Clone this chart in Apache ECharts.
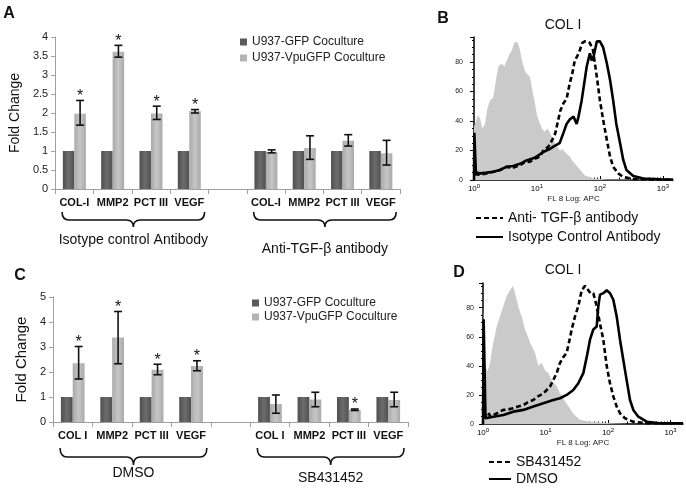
<!DOCTYPE html>
<html><head><meta charset="utf-8">
<script src="https://cdn.jsdelivr.net/npm/echarts@6/dist/echarts.min.js"></script>
<style>html,body{margin:0;padding:0;background:#fff}#c{width:686px;height:489px}</style>
</head><body><div id="c"></div>
<script>
// ---------- Panel A ----------
const catsA = ['COL-I','MMP2','PCT III','VEGF','','COL-I','MMP2','PCT III','VEGF'];
const gfpA = [1,1,1,1,null,1,1,1,1];
const vpuA = [1.98,3.61,1.99,2.05,null,0.98,1.08,1.27,0.94];
const errLowA = [1.68,3.47,1.83,2.00,null,0.95,0.78,1.13,0.63];
const errHighA = [2.33,3.78,2.18,2.09,null,1.03,1.40,1.43,1.28];
const starA = [1,1,1,1,0,0,0,0,0];
const groupNamesA = ['Isotype control Antibody','Anti-TGF-\u03b2 antibody'];
// ---------- Panel C ----------
const catsC = ['COL I','MMP2','PCT III','VEGF','','COL I','MMP2','PCT III','VEGF'];
const gfpC = [1,1,1,1,null,1,1,1,1];
const vpuC = [2.35,3.38,2.09,2.24,null,0.72,0.90,0.48,0.88];
const errLowC = [1.72,2.33,1.89,2.05,null,0.35,0.61,0.46,0.61];
const errHighC = [3.02,4.42,2.31,2.45,null,1.08,1.19,0.52,1.19];
const starC = [1,1,1,1,0,0,0,1,0];
const groupNamesC = ['DMSO','SB431452'];
const groupStart = [0,5];
const groupEnd = [3,8];
const legendBars = ['U937-GFP Coculture','U937-VpuGFP Coculture'];
// ---------- Panel B histograms (x in log10 decades, y = counts) ----------
const grayB = [[0,36],[0.016,36],[0.06,44],[0.095,42],[0.13,35],[0.175,38],[0.21,48],[0.254,54],[0.307,56],[0.35,68],[0.386,77],[0.44,79],[0.48,77],[0.52,81],[0.56,85],[0.6,88],[0.65,94],[0.7,93],[0.73,88],[0.757,82],[0.8,75],[0.836,72],[0.889,70],[0.93,60],[0.968,52],[1.0,44],[1.048,38],[1.09,34],[1.127,33],[1.17,35],[1.206,32],[1.25,28],[1.286,25],[1.33,22],[1.365,20],[1.40,21],[1.444,19],[1.49,17],[1.524,16],[1.56,13],[1.603,11],[1.683,7],[1.762,3],[1.83,2],[1.894,1],[2.1,0.3],[3.16,0]];
const antiTgfB = [[0.01,4],[0.04,4.5],[0.1,3.5],[0.2,4.5],[0.31,5.6],[0.4,6.5],[0.52,9],[0.6,8],[0.73,10],[0.8,12],[0.89,12.4],[0.95,14],[1.05,16],[1.1,20],[1.18,22.6],[1.24,27],[1.29,31.6],[1.37,47],[1.42,52],[1.47,55],[1.52,65.5],[1.56,72],[1.6,81],[1.64,84],[1.68,88],[1.72,93],[1.76,94],[1.8,94],[1.84,93],[1.89,88],[1.95,70],[2.0,54],[2.05,41],[2.11,27],[2.16,16],[2.21,9],[2.29,4.5],[2.37,2],[2.53,0.7],[2.8,0.3],[3.16,0.2]];
const isotypeB = [[0,0],[0.005,32],[0.02,32],[0.03,5],[0.1,4.5],[0.2,5],[0.31,5.6],[0.42,7],[0.52,9],[0.62,9.5],[0.73,11],[0.82,13],[0.94,14.7],[1.0,16],[1.1,19],[1.2,21],[1.26,22.6],[1.36,25],[1.42,32],[1.47,38],[1.52,41],[1.58,43],[1.63,38],[1.66,43],[1.71,54],[1.79,77],[1.84,86],[1.87,81],[1.9,84],[1.95,94],[2.0,94],[2.05,90],[2.11,79],[2.16,68],[2.21,54],[2.26,38],[2.32,25],[2.37,13.6],[2.42,6.8],[2.53,2.7],[2.69,1],[2.95,0.5],[3.16,0.3]];
// ---------- Panel D histograms ----------
const grayD = [[0,80],[0.02,80],[0.04,40],[0.07,36],[0.112,42],[0.14,50],[0.165,56],[0.219,67],[0.272,74],[0.325,81],[0.379,88],[0.432,92],[0.475,95],[0.5,92],[0.53,87],[0.565,81],[0.6,76],[0.619,74],[0.672,65],[0.72,60],[0.752,56],[0.8,52],[0.832,49],[0.885,40],[0.939,42],[0.992,37],[1.045,35],[1.099,30],[1.179,26],[1.232,21],[1.339,14],[1.445,7],[1.552,3],[1.712,1.6],[1.872,1],[2.032,0.5],[2.3,0],[3.2,0]];
const sbD = [[0.01,4],[0.032,5],[0.08,8],[0.12,5],[0.165,6.2],[0.25,8],[0.325,9.7],[0.4,10],[0.485,10.8],[0.56,12],[0.645,13],[0.72,15],[0.805,16.5],[0.88,19],[0.965,21],[1.072,25.7],[1.179,35],[1.232,42],[1.285,46],[1.339,49],[1.38,57],[1.419,65],[1.472,74],[1.525,81],[1.579,92],[1.632,95],[1.685,92],[1.72,90],[1.765,90],[1.819,81],[1.872,69],[1.925,58],[1.979,40],[2.032,28],[2.085,19],[2.139,12],[2.192,7.4],[2.272,3.9],[2.405,1.6],[2.619,0.5],[3.2,0.5]];
const dmsoD = [[0,0],[0.01,72],[0.03,72],[0.04,4],[0.059,4],[0.165,5],[0.325,6.2],[0.485,8.5],[0.645,9.7],[0.805,12],[0.965,14.3],[1.125,16.5],[1.232,17.7],[1.339,20],[1.445,23.4],[1.525,28],[1.605,35],[1.659,46],[1.712,58],[1.765,65],[1.819,67],[1.845,81],[1.872,89],[1.925,90],[1.979,92],[2.032,90],[2.085,85.5],[2.139,74],[2.192,58],[2.245,44],[2.299,30],[2.352,16.5],[2.405,9.7],[2.485,5],[2.619,1.6],[2.832,0.5],[3.2,0.5]];
const decadeLabels = [0,1,2,3];

const FONT = 'Arial, "Liberation Sans", sans-serif';
const BAR_FRAC = 0.30; // fraction of band per bar
function grad(edge, mid){
  return {type:'linear',x:0,y:0,x2:1,y2:0,colorStops:[{offset:0,color:edge},{offset:0.5,color:mid},{offset:1,color:edge}]};
}
const darkFill = grad('#4f4f4f','#6c6c6c');
const lightFill = grad('#a9a9a9','#c6c6c6');

function errSeries(axisIdx, low, high, star){
  const data = [];
  low.forEach((l,i)=>{ if(l!=null) data.push([i,l,high[i],star[i]]); });
  return {type:'custom', xAxisIndex:axisIdx, yAxisIndex:axisIdx, z:5, silent:true, clip:false,
    data: data,
    renderItem: function(params, api){
      const i = api.value(0);
      const bw = api.size([1,0])[0];
      const x = api.coord([i,0])[0] + BAR_FRAC*bw/2;
      const lo = api.coord([i, api.value(1)])[1];
      const hi = api.coord([i, api.value(2)])[1];
      const c = 4;
      const st = {stroke:'#111', lineWidth:1.6};
      const ch = [
        {type:'line', shape:{x1:x,y1:lo,x2:x,y2:hi}, style:st},
        {type:'line', shape:{x1:x-c,y1:lo,x2:x+c,y2:lo}, style:st},
        {type:'line', shape:{x1:x-c,y1:hi,x2:x+c,y2:hi}, style:st}
      ];
      if(api.value(3)) ch.push({type:'text', style:{text:'*', x:x, y:hi-4, align:'center', verticalAlign:'middle', font:'16px '+FONT, fill:'#111'}});
      return {type:'group', children:ch};
    }};
}
function braceSeries(axisIdx, names, cfg){
  return {type:'custom', xAxisIndex:axisIdx, yAxisIndex:axisIdx, silent:true, clip:false,
    data: groupStart.map((s,k)=>[s, groupEnd[k]]),
    renderItem: function(params, api){
      const k = params.dataIndex;
      const bw = api.size([1,0])[0];
      const p0 = api.coord([api.value(0),0]);
      const p1 = api.coord([api.value(1),0]);
      const x1 = p0[0]-0.32*bw, x2 = p1[0]+0.40*bw, xc = (x1+x2)/2;
      const y0 = p0[1]+cfg.top, ym = y0+cfg.mid, yt = y0+cfg.tip;
      const r = 7;
      const d = `M${x1},${y0} Q${x1},${ym} ${x1+r},${ym} L${xc-r},${ym} Q${xc},${ym} ${xc},${yt} Q${xc},${ym} ${xc+r},${ym} L${x2-r},${ym} Q${x2},${ym} ${x2},${y0}`;
      return {type:'group', children:[
        {type:'path', shape:{pathData:d}, style:{stroke:'#111', fill:'none', lineWidth:1.6}},
        {type:'text', style:{text:names[k], x:xc, y:p0[1]+cfg.label[k], align:'center', verticalAlign:'middle', font:'14px '+FONT, fill:'#111'}}
      ]};
    }};
}
function catAxis(gi, cats){
  return {type:'category', gridIndex:gi, data:cats,
    axisLine:{lineStyle:{color:'#a0a0a0', width:1}},
    axisTick:{show:true, length:5, alignWithLabel:false, lineStyle:{color:'#a0a0a0'}},
    axisLabel:{fontSize:11, fontWeight:'bold', color:'#111', fontFamily:FONT, margin:8, interval:0}};
}
function barY(gi, max, interval, nameGap, nameSize){
  return {type:'value', gridIndex:gi, min:0, max:max, interval:interval,
    name:'Fold Change', nameLocation:'middle', nameRotate:90, nameGap:nameGap,
    nameTextStyle:{fontSize:nameSize, color:'#111', fontFamily:FONT},
    axisLine:{show:true, lineStyle:{color:'#a0a0a0'}},
    axisTick:{show:true, length:4, lineStyle:{color:'#a0a0a0'}},
    axisLabel:{fontSize:11, color:'#222', fontFamily:FONT, margin:7},
    splitLine:{show:false}};
}
function histX(gi, max){
  return {type:'value', gridIndex:gi, min:0, max:max, interval:1, position:'bottom',
    name:'FL 8 Log: APC', nameLocation:'middle', nameGap:15,
    nameTextStyle:{fontSize:8, color:'#222', fontFamily:FONT},
    axisLine:{lineStyle:{color:'#000', width:1.5}},
    axisTick:{inside:true, length:4, lineStyle:{color:'#000'}},
    axisLabel:{showMaxLabel:false, margin:3, color:'#000', fontFamily:FONT,
      formatter: v => '{a|10}{b|' + v + '}',
      rich:{a:{fontSize:8, fontFamily:FONT}, b:{fontSize:6, fontFamily:FONT, padding:[0,0,6,0]}}},
    splitLine:{show:false}};
}
function minorX(gi, max){
  const vals = [];
  decadeLabels.forEach(n => { for(let k=2;k<=9;k++){ const v = n + Math.log10(k); if(v < max) vals.push(v); } });
  return {type:'value', gridIndex:gi, min:0, max:max, position:'bottom', offset:0,
    axisLine:{show:false}, axisLabel:{show:false}, splitLine:{show:false},
    axisTick:{show:true, inside:true, length:2.5, customValues:vals, lineStyle:{color:'#000'}}};
}
function histY(gi, margin){
  return {type:'value', gridIndex:gi, min:0, max:97, interval:20,
    axisLine:{show:true, lineStyle:{color:'#000', width:1.5}},
    axisTick:{show:true, length:4, lineStyle:{color:'#000'}},
    minorTick:{show:true, splitNumber:4, length:2, lineStyle:{color:'#000'}},
    axisLabel:{fontSize:7, color:'#222', margin:margin, showMaxLabel:false, fontFamily:FONT},
    splitLine:{show:false}};
}
function grayS(gi, data){
  return {type:'line', xAxisIndex:gi, yAxisIndex:gi, data:data, symbol:'none', silent:true, z:1,
    lineStyle:{width:0}, areaStyle:{color:'#cacaca', opacity:1}};
}
function curveS(gi, name, data, dashed){
  return {type:'line', name:name, xAxisIndex:gi, yAxisIndex:gi, data:data, symbol:'none', silent:true, z:3,
    itemStyle:{color:'#000'},
    lineStyle:{color:'#000', width:2.6, type: dashed ? [5,3] : 'solid'}};
}
function txt(text, x, y, size, bold){
  return {type:'text', style:{text:text, x:x, y:y, align:'center', verticalAlign:'middle',
    font:(bold?'bold ':'') + size + 'px ' + FONT, fill:'#111'}};
}
const hiddenSymbol = {color:'rgba(0,0,0,0)', borderColor:'rgba(0,0,0,0)', borderWidth:0, opacity:0};

const option = {
  animation:false,
  backgroundColor:'#fff',
  grid:[
    {left:53, top:37, width:347, height:152},
    {left:53, top:297, width:355, height:125},
    {left:474, top:37, width:199, height:143},
    {left:483, top:283, width:200, height:141}
  ],
  xAxis:[catAxis(0,catsA), catAxis(1,catsC), histX(2,3.16), histX(3,3.2), minorX(2,3.16), minorX(3,3.2)],
  yAxis:[barY(0,4,0.5,29,14), barY(1,5,1,22,15), histY(2,11), histY(3,9)],
  legend:[
    {left:240, top:36, padding:0, orient:'vertical', itemWidth:7, itemHeight:7, itemGap:4, icon:'rect', selectedMode:false,
      textStyle:{fontSize:12, color:'#222', fontFamily:FONT},
      data:[{name:legendBars[0], itemStyle:{color:'#5a5a5a'}},{name:legendBars[1], itemStyle:{color:'#b4b4b4'}}]},
    {left:252, top:297, padding:0, orient:'vertical', itemWidth:7, itemHeight:7, itemGap:2, icon:'rect', selectedMode:false,
      textStyle:{fontSize:12, color:'#222', fontFamily:FONT},
      data:[{name:legendBars[0], itemStyle:{color:'#5a5a5a'}},{name:legendBars[1], itemStyle:{color:'#b4b4b4'}}]},
    {left:475, top:211, padding:0, orient:'vertical', itemWidth:27, itemHeight:10, itemGap:5, selectedMode:false,
      itemStyle:hiddenSymbol,
      textStyle:{fontSize:14, color:'#111', fontFamily:FONT},
      data:['Anti- TGF-\u03b2 antibody','Isotype Control Antibody']},
    {left:488, top:455, padding:0, orient:'vertical', itemWidth:22, itemHeight:10, itemGap:3, selectedMode:false,
      itemStyle:hiddenSymbol,
      textStyle:{fontSize:14, color:'#111', fontFamily:FONT},
      data:['SB431452','DMSO']}
  ],
  graphic:[
    txt('A', 9, 14, 16, true), txt('B', 443, 19, 16, true),
    txt('C', 20, 276, 16, true), txt('D', 459, 273, 16, true),
    txt('COL I', 563, 25, 14, false), txt('COL I', 563, 270, 14, false)
  ],
  series:[
    {type:'bar', name:legendBars[0], xAxisIndex:0, yAxisIndex:0, data:gfpA, barGap:'0%', barCategoryGap:'40%', itemStyle:{color:darkFill}, silent:true},
    {type:'bar', name:legendBars[1], xAxisIndex:0, yAxisIndex:0, data:vpuA, barGap:'0%', barCategoryGap:'40%', itemStyle:{color:lightFill}, silent:true},
    errSeries(0, errLowA, errHighA, starA),
    braceSeries(0, groupNamesA, {top:23, mid:8, tip:15, label:[51,60]}),
    {type:'bar', name:legendBars[0], xAxisIndex:1, yAxisIndex:1, data:gfpC, barGap:'0%', barCategoryGap:'40%', itemStyle:{color:darkFill}, silent:true},
    {type:'bar', name:legendBars[1], xAxisIndex:1, yAxisIndex:1, data:vpuC, barGap:'0%', barCategoryGap:'40%', itemStyle:{color:lightFill}, silent:true},
    errSeries(1, errLowC, errHighC, starC),
    braceSeries(1, groupNamesC, {top:26, mid:9, tip:17, label:[51,56]}),
    grayS(2, grayB),
    curveS(2, 'Anti- TGF-\u03b2 antibody', antiTgfB, true),
    curveS(2, 'Isotype Control Antibody', isotypeB, false),
    grayS(3, grayD),
    curveS(3, 'SB431452', sbD, true),
    curveS(3, 'DMSO', dmsoD, false)
  ]
};
const chart = echarts.init(document.getElementById('c'), null, {renderer:'canvas'});
chart.setOption(option);
</script>
</body></html>
